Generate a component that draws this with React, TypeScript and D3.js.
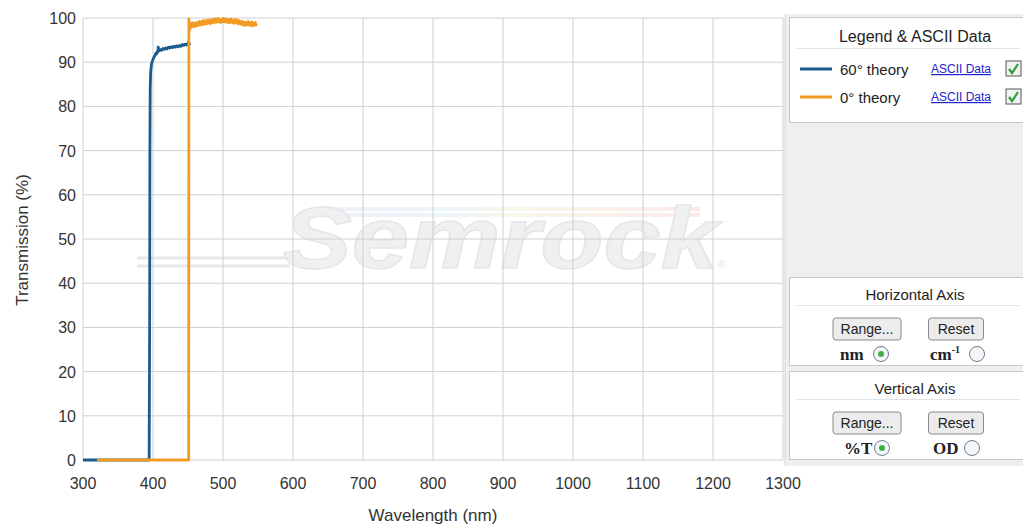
import React from "react";
import * as d3 from "d3";

// ---- data ----
const xTicks = [300, 400, 500, 600, 700, 800, 900, 1000, 1100, 1200, 1300];
const yTicks = [0, 10, 20, 30, 40, 50, 60, 70, 80, 90, 100];

const theory60Wl = [300, 320, 394.5, 395.2, 395.6, 396, 396.6, 397.3, 398, 399, 400.5, 402, 403, 404, 405, 406, 407, 407.5, 408, 408.5, 409, 410, 412, 414, 416, 418, 420, 422, 424, 426, 428, 430, 432, 434, 436, 438, 440, 442, 444, 446, 448, 450, 451, 452, 453];
const theory60T = [0, 0, 0, 30, 70, 84, 87.5, 88.8, 89.6, 90.2, 90.8, 91.3, 91.6, 92.0, 91.8, 92.4, 92.3, 93.4, 92.5, 93.0, 92.6, 92.9, 92.7, 93.1, 92.9, 93.2, 93.0, 93.4, 93.2, 93.5, 93.3, 93.6, 93.4, 93.7, 93.5, 93.8, 93.6, 94.0, 93.8, 94.1, 93.9, 94.2, 94.6, 94.1, 94.3];

const theory0Wl = [320, 451, 451.3, 452, 452.5, 453, 454, 455, 456, 457, 458, 459, 460, 461, 462, 463, 464, 465, 466, 467, 468, 469, 470, 471, 472, 473, 474, 475, 476, 477, 478, 479, 480, 481, 482, 483, 484, 485, 486, 487, 488, 489, 490, 491, 492, 493, 494, 495, 496, 497, 498, 499, 500, 501, 502, 503, 504, 505, 506, 507, 508, 509, 510, 511, 512, 513, 514, 515, 516, 517, 518, 519, 520, 521, 522, 523, 524, 525, 526, 527, 528, 529, 530, 531, 532, 533, 534, 535, 536, 537, 538, 539, 540, 541, 542, 543, 544, 545, 546, 547, 548];
const theory0T = [0, 0, 99.8, 98.2, 97.4, 98.6, 97.9, 98.8, 98.1, 98.9, 98.4, 98.0, 98.7, 98.3, 99.0, 98.2, 98.8, 98.5, 99.2, 98.4, 98.9, 98.6, 99.3, 98.5, 98.8, 99.4, 98.6, 99.1, 98.7, 99.5, 98.8, 99.2, 98.9, 99.6, 98.7, 99.3, 99.0, 99.7, 98.9, 99.4, 99.1, 99.8, 99.0, 99.5, 99.2, 99.9, 99.1, 99.6, 99.3, 99.0, 99.7, 99.2, 99.9, 99.4, 99.1, 99.8, 99.3, 99.6, 99.0, 99.7, 99.2, 98.9, 99.6, 99.1, 99.8, 99.0, 99.5, 98.8, 99.4, 99.0, 99.7, 98.9, 99.3, 98.7, 99.5, 98.8, 99.2, 98.6, 99.3, 98.9, 98.5, 99.1, 98.7, 98.3, 99.0, 98.6, 98.9, 98.4, 99.2, 98.7, 98.4, 98.9, 98.3, 99.1, 98.6, 98.2, 98.8, 98.5, 99.0, 98.4, 98.7];

const seriesNames = ["60° theory", "0° theory"];
const seriesColors = ["#1b5a8c", "#f29b22"];

export default function App() {
  const W = 1023, H = 527;
  const x = d3.scaleLinear().domain([300, 1300]).range([83, 783]);
  const y = d3.scaleLinear().domain([0, 100]).range([460, 18]);
  const line = d3.line<[number, number]>().x(d => x(d[0])).y(d => y(d[1]));
  const s60 = theory60Wl.map((w, i) => [w, theory60T[i]] as [number, number]);
  const s0 = theory0Wl.map((w, i) => [w, theory0T[i]] as [number, number]);
  const font = "Liberation Sans, Arial, sans-serif";
  const serif = "Liberation Serif, Times New Roman, serif";

  const Button = ({ cx, cy, w, label }: { cx: number; cy: number; w: number; label: string }) => (
    <g>
      <rect x={cx - w / 2} y={cy - 11} width={w} height={22} rx={3} fill="#ececec" stroke="#8a8a8a" strokeWidth={1} />
      <text x={cx} y={cy + 5} textAnchor="middle" fontSize={14} fill="#222" fontFamily={font}>{label}</text>
    </g>
  );
  const Radio = ({ cx, cy, on }: { cx: number; cy: number; on: boolean }) => (
    <g>
      <circle cx={cx} cy={cy} r={7.5} fill="#f4f6f8" stroke="#6d7c8c" strokeWidth={1} />
      {on && <circle cx={cx} cy={cy} r={3} fill="#3fae49" />}
    </g>
  );
  const Check = ({ x0, y0 }: { x0: number; y0: number }) => (
    <g>
      <rect x={x0} y={y0} width={15} height={15} fill="#f2f2f2" stroke="#555" strokeWidth={1} />
      <path d={`M${x0 + 3},${y0 + 8} L${x0 + 6},${y0 + 12} L${x0 + 12},${y0 + 3}`} fill="none" stroke="#2e9e3c" strokeWidth={2.2} />
    </g>
  );

  return (
    <svg width={W} height={H} style={{ position: "absolute", left: 0, top: 0, background: "#fff" }}>
      <rect x={0} y={0} width={W} height={H} fill="#fff" />
      {/* watermark */}
      <g>
        <line x1={137} y1={258} x2={290} y2={258} stroke="#e8e8e8" strokeWidth={3} />
        <line x1={137} y1={266} x2={290} y2={266} stroke="#e8e8e8" strokeWidth={3} />
        <defs>
          <linearGradient id="rainbow" x1="0" x2="1" y1="0" y2="0">
            <stop offset="0" stopColor="#f0f0fa" />
            <stop offset="0.3" stopColor="#eaf5fa" />
            <stop offset="0.5" stopColor="#f8f8e8" />
            <stop offset="0.75" stopColor="#fbf0ea" />
            <stop offset="1" stopColor="#fbe8e8" />
          </linearGradient>
        </defs>
        <rect x={330} y={207} width={370} height={4} fill="url(#rainbow)" />
        <rect x={330} y={213} width={370} height={4} fill="url(#rainbow)" />
        <text x={283} y={268} fontSize={88} fontWeight="bold" fontStyle="italic" fontFamily={font} fill="#f0f0f0" stroke="#e6e6e6" strokeWidth={1.5} textLength={435} lengthAdjust="spacingAndGlyphs">Semrock</text>
        <text x={718} y={268} fontSize={10} fill="#e6e6e6" fontFamily={font}>®</text>
      </g>
      {/* grid */}
      {xTicks.map(t => (
        <line key={"gx" + t} x1={x(t)} x2={x(t)} y1={y(100)} y2={y(0)} stroke="#d0d0d0" strokeWidth={1} />
      ))}
      {yTicks.map(t => (
        <line key={"gy" + t} x1={x(300)} x2={x(1300)} y1={y(t)} y2={y(t)} stroke="#d0d0d0" strokeWidth={1} />
      ))}
      {/* tick labels */}
      {xTicks.map(t => (
        <text key={"tx" + t} x={x(t)} y={489} textAnchor="middle" fontSize={16} fill="#333" fontFamily={font}>{t}</text>
      ))}
      {yTicks.map(t => (
        <text key={"ty" + t} x={76} y={y(t) + 6} textAnchor="end" fontSize={16} fill="#333" fontFamily={font}>{t}</text>
      ))}
      <text x={433} y={521} textAnchor="middle" fontSize={17} fill="#333" fontFamily={font}>Wavelength (nm)</text>
      <text transform="translate(28,240) rotate(-90)" textAnchor="middle" fontSize={17} fill="#333" fontFamily={font}>Transmission (%)</text>
      {/* series */}
      <path d={line(s60) || ""} fill="none" stroke={seriesColors[0]} strokeWidth={2.8} strokeLinejoin="round" />
      <path d={line(s0) || ""} fill="none" stroke={seriesColors[1]} strokeWidth={2.8} strokeLinejoin="round" />

      {/* right panel */}
      <rect x={785} y={14} width={240} height={452} fill="#efefef" />
      <line x1={785} y1={14} x2={785} y2={466} stroke="#d4d4d4" />
      {/* legend panel */}
      <rect x={789.5} y={17.5} width={240} height={105} fill="#fff" stroke="#c8c8c8" />
      <text x={915} y={42} textAnchor="middle" fontSize={16} fill="#222" fontFamily={font}>Legend &amp; ASCII Data</text>
      <line x1={797} x2={1020} y1={48.5} y2={48.5} stroke="#e2e2e2" />
      {seriesNames.map((n, i) => {
        const cy = 69 + i * 28;
        return (
          <g key={n}>
            <line x1={800} x2={832} y1={cy} y2={cy} stroke={seriesColors[i]} strokeWidth={3} />
            <text x={840} y={cy + 6} fontSize={15} fill="#222" fontFamily={font}>{n}</text>
            <text x={931} y={cy + 4} fontSize={12} fill="#2222cc" fontFamily={font} textDecoration="underline">ASCII Data</text>
            <Check x0={1006} y0={cy - 8} />
          </g>
        );
      })}
      {/* horizontal axis panel */}
      <rect x={789.5} y={277.5} width={240} height={88} fill="#fff" stroke="#c8c8c8" />
      <text x={915} y={300} textAnchor="middle" fontSize={15} fill="#222" fontFamily={font}>Horizontal Axis</text>
      <line x1={797} x2={1020} y1={305.5} y2={305.5} stroke="#e2e2e2" />
      <Button cx={867} cy={329} w={68} label="Range..." />
      <Button cx={956} cy={329} w={55} label="Reset" />
      <text x={840} y={360} fontSize={17} fontWeight="bold" fill="#222" fontFamily={serif}>nm</text>
      <Radio cx={881} cy={354} on={true} />
      <text x={930} y={360} fontSize={17} fontWeight="bold" fill="#222" fontFamily={serif}>cm<tspan fontSize={10} dy={-7}>-1</tspan></text>
      <Radio cx={977} cy={354} on={false} />
      {/* vertical axis panel */}
      <rect x={789.5} y={371.5} width={240} height={88} fill="#fff" stroke="#c8c8c8" />
      <text x={915} y={394} textAnchor="middle" fontSize={15} fill="#222" fontFamily={font}>Vertical  Axis</text>
      <line x1={797} x2={1020} y1={399.5} y2={399.5} stroke="#e2e2e2" />
      <Button cx={867} cy={423} w={68} label="Range..." />
      <Button cx={956} cy={423} w={55} label="Reset" />
      <text x={844} y={454} fontSize={17} fontWeight="bold" fill="#222" fontFamily={serif}>%T</text>
      <Radio cx={882} cy={448} on={true} />
      <text x={933} y={454} fontSize={17} fontWeight="bold" fill="#222" fontFamily={serif}>OD</text>
      <Radio cx={972} cy={448} on={false} />
    </svg>
  );
}
